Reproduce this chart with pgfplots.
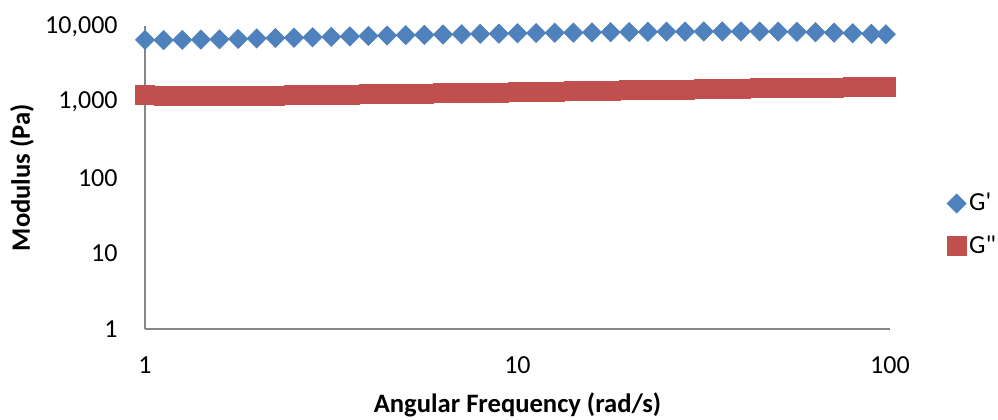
\documentclass[border=0pt]{standalone}
\usepackage{pgfplots}
\pgfplotsset{compat=1.18}
\usepackage{fontspec}
\setmainfont{Carlito}[Ligatures=TeXOff]
\definecolor{gblue}{HTML}{4F81BD}
\definecolor{gred}{HTML}{C0504D}
\definecolor{axgray}{HTML}{868686}
\begin{document}
\begin{tikzpicture}
\begin{axis}[
  scale only axis,
  width=372.5pt, height=151.25pt,
  xmode=log, ymode=log,
  xmin=1, xmax=100, ymin=1, ymax=10000,
  axis x line=bottom, axis y line=left,
  axis line style={-, draw=axgray, line width=0.8pt},
  major tick length=0pt, minor tick length=0pt,
  xtick={1,10,100}, xticklabels={1,10,100},
  ytick={1,10,100,1000,10000}, yticklabels={1,10,100,{1,000},{10,000}},
  minor xtick={}, minor ytick={},
  ticklabel style={font=\fontsize{13pt}{15pt}\selectfont},
  yticklabel style={anchor=east, inner sep=0pt, xshift=-13.5pt},
  xticklabel style={anchor=center, inner sep=0pt, yshift=-18pt},
  xlabel={Angular Frequency (rad/s)},
  ylabel={Modulus (Pa)},
  label style={font=\fontsize{13.3pt}{15pt}\selectfont\bfseries},
  xlabel style={at={(rel axis cs:0.5,-0.2512)}, anchor=center},
  ylabel style={at={(rel axis cs:-0.1651,0.5)}, anchor=center, rotate=0},
  clip=false,
  legend style={draw=none, fill=none, at={(rel axis cs:1.0761,0.3445)}, anchor=west,
    font=\fontsize{13pt}{15pt}\selectfont, row sep=8pt, inner sep=0pt,
    nodes={inner sep=1.5pt}},
  legend cell align=left,
  legend image code/.code={\draw[mark repeat=2,mark phase=2] plot coordinates {(0pt,0pt)(4.5pt,0pt)(9pt,0pt)};},
]
\addplot[only marks, mark=square*, mark size=3.36pt, mark options={rotate=45, draw=gblue, fill=gblue}, color=gblue]
coordinates {
(1,6650)(1.122,6600)(1.259,6650)(1.413,6700)(1.585,6750)(1.778,6850)(1.995,6950)(2.239,7050)(2.512,7100)(2.818,7200)
(3.162,7300)(3.548,7400)(3.981,7500)(4.467,7600)(5.012,7700)(5.623,7750)(6.310,7850)(7.079,7900)(7.943,8000)(8.913,8050)
(10,8150)(11.22,8200)(12.59,8250)(14.13,8300)(15.85,8350)(17.78,8400)(19.95,8450)(22.39,8500)(25.12,8550)(28.18,8550)
(31.62,8600)(35.48,8600)(39.81,8600)(44.67,8600)(50.12,8550)(56.23,8500)(63.10,8400)(70.79,8300)(79.43,8150)(89.13,8000)
(97.5,7900)
};
\addlegendentry{G\symbol{39}}
\addplot[only marks, mark=square*, mark size=4.75pt, mark options={draw=gred, fill=gred}, color=gred]
coordinates {
(1,1260)(1.122,1220)(1.259,1200)(1.413,1200)(1.585,1200)(1.778,1200)(1.995,1210)(2.239,1220)(2.512,1230)(2.818,1240)
(3.162,1250)(3.548,1260)(3.981,1270)(4.467,1280)(5.012,1290)(5.623,1300)(6.310,1310)(7.079,1320)(7.943,1330)(8.913,1340)
(10,1350)(11.22,1360)(12.59,1375)(14.13,1390)(15.85,1400)(17.78,1415)(19.95,1430)(22.39,1440)(25.12,1455)(28.18,1470)
(31.62,1480)(35.48,1495)(39.81,1510)(44.67,1520)(50.12,1535)(56.23,1545)(63.10,1555)(70.79,1565)(79.43,1575)(89.13,1590)
(97.5,1600)
};
\addlegendentry{G\symbol{34}}
\end{axis}
\pgfresetboundingbox
\path[use as bounding box] (-72.5pt,-45pt) rectangle (426.5pt,164.5pt);
\end{tikzpicture}
\end{document}
